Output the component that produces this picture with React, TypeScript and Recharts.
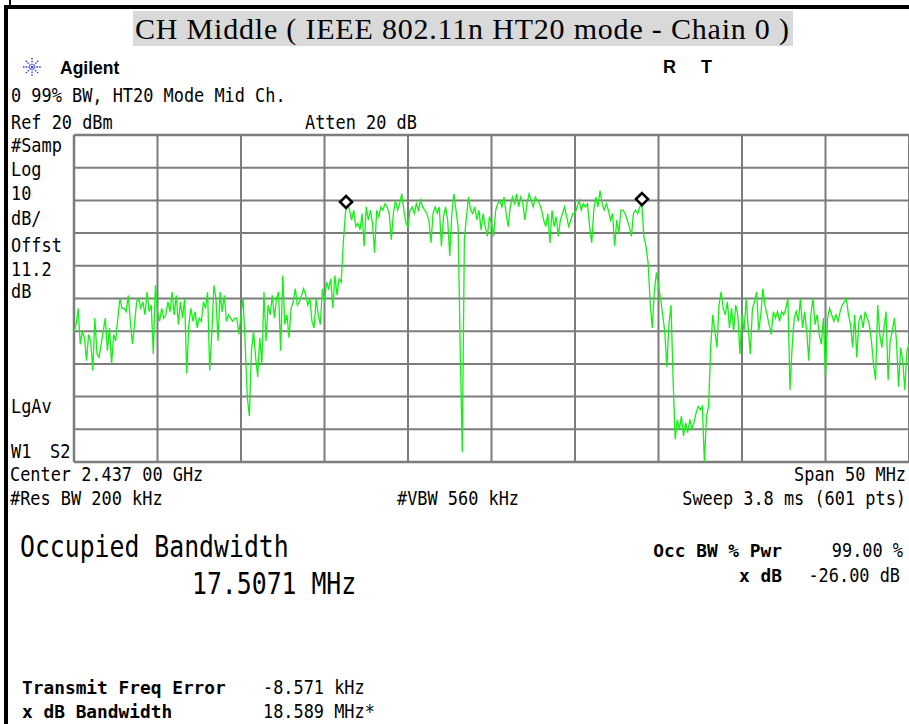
import React from 'react'
import { LineChart, Line, XAxis, YAxis, ReferenceLine, ReferenceDot } from 'recharts'

// sweep settings (center 2437 MHz, span 50 MHz)
const F_START = 2412
const F_STEP = 0.125

// trace values in dBm, one row per MHz (8 points each)
const TRACE_2412_2422 = [
  -40, -38, -33, -44, -40, -42, -49, -41,
  -43, -52, -36, -47, -48, -44, -40, -36,
  -46, -39, -50, -41, -43, -36, -30, -33,
  -33, -34, -29, -37, -44, -38, -31, -30,
  -33, -31, -35, -28, -34, -32, -47, -26,
  -34, -37, -33, -36, -35, -31, -34, -28,
  -35, -29, -38, -31, -36, -30, -53, -38,
  -33, -37, -34, -39, -36, -37, -31, -33,
  -28, -52, -41, -26, -30, -43, -28, -34,
  -29, -37, -35, -36, -37, -36, -36, -41,
]
const TRACE_2422_2432 = [
  -35, -30, -44, -60, -66, -46, -40, -48,
  -54, -42, -50, -28, -43, -32, -35, -29,
  -36, -30, -28, -46, -23, -38, -35, -42,
  -33, -31, -27, -32, -31, -29, -27, -29,
  -32, -30, -37, -39, -30, -35, -38, -27,
  -31, -25, -27, -24, -33, -23, -29, -24,
  -25, -13, -4, -1, -3, -6, -3, -8,
  -7, -9, -4, -14, -2, -6, -3, -7,
  -16, -3, -5, -2, -3, -1, -2, -4,
  -12, -4, 0, -3, -1, 2, -3, -7,
]
const TRACE_2432_2442 = [
  -8, -3, -2, -4, -1, -3, 0, -2,
  -3, -4, -6, -13, -4, -2, -4, -2,
  -14, -5, -2, -6, -17, -4, 2, -3,
  -8, -45, -77, -12, -5, 1, -3, -4,
  -2, -6, -3, -9, -4, -8, -11, -5,
  -7, -11, -3, -1, 0, -2, 1, -4,
  -8, -2, 1, -1, 2, -2, 1, -1,
  -6, -1, 2, 0, -2, 1, 0, -1,
  -3, -6, -8, -4, -13, -3, -8, -5,
  -11, -6, -4, -2, -5, -8, -6, -4,
]
const TRACE_2442_2452 = [
  -4, -2, 0, -3, -1, -2, -1, -8,
  -13, -3, 1, -2, 3, -1, -3, -1,
  -3, -6, -4, -14, -6, -10, -3, -3,
  -4, -6, -8, -11, -4, -3, -4, -2,
  -1, -11, -14, -19, -31, -39, -28, -22,
  -26, -30, -35, -40, -51, -38, -32, -55,
  -73, -67, -70, -66, -72, -68, -71, -67,
  -70, -68, -65, -63, -64, -63, -80, -66,
  -63, -45, -35, -40, -45, -32, -28, -33,
  -35, -31, -39, -33, -40, -32, -35, -47,
]
const TRACE_2452_2462 = [
  -35, -40, -30, -39, -47, -33, -31, -28,
  -40, -35, -27, -32, -35, -38, -41, -34,
  -36, -34, -37, -34, -35, -33, -30, -58,
  -45, -36, -34, -37, -30, -39, -34, -40,
  -49, -35, -30, -38, -35, -41, -44, -36,
  -54, -36, -33, -35, -37, -35, -37, -34,
  -32, -31, -30, -35, -38, -45, -35, -48,
  -37, -35, -39, -34, -36, -38, -43, -50,
  -55, -32, -41, -45, -39, -34, -55, -43,
  -40, -36, -43, -57, -45, -49, -58, -46,
  -44,
]

const X_TICKS = [2412, 2417, 2422, 2427, 2432, 2437, 2442, 2447, 2452, 2457, 2462]
const Y_TICKS = [20, 10, 0, -10, -20, -30, -40, -50, -60, -70, -80]

// occupied bandwidth markers (freq MHz, dBm)
const MARKERS = [
  { freq: 2428.29, dbm: -0.5 },
  { freq: 2446.01, dbm: 0.4 },
]

const SWEEP = [
  ...TRACE_2412_2422,
  ...TRACE_2422_2432,
  ...TRACE_2432_2442,
  ...TRACE_2442_2452,
  ...TRACE_2452_2462,
]
const traceData = SWEEP.map((dbm, i) => ({ freq: F_START + i * F_STEP, dbm }))

const GRID = '#7c7c7c'
const MONO = "'DejaVu Sans Mono', monospace"

function Mono({ x, y, size = 19, sx = 0.89, bold = false, anchor = 'start', children }: any) {
  return (
    <text
      x={x / sx}
      y={y}
      transform={`scale(${sx},1)`}
      fontFamily={MONO}
      fontSize={size}
      fontWeight={bold ? 'bold' : 'normal'}
      textAnchor={anchor}
      fill="#000"
      style={{ whiteSpace: 'pre' }}
    >
      {children}
    </text>
  )
}

const Diamond = (props: any) => {
  const { cx, cy } = props
  const r = 6
  return (
    <polygon
      points={`${cx},${cy - r} ${cx + r},${cy} ${cx},${cy + r} ${cx - r},${cy}`}
      fill="#fff"
      stroke="#000"
      strokeWidth={2.6}
    />
  )
}

function AgilentStar() {
  const rays = [0, 45, 90, 135]
  return (
    <g transform="translate(32,67)">
      {rays.map((a) => (
        <line
          key={a}
          x1={-9}
          y1={0}
          x2={9}
          y2={0}
          transform={`rotate(${a})`}
          stroke="#3030f0"
          strokeWidth={1.3}
          strokeDasharray="1.5 1.2"
        />
      ))}
    </g>
  )
}

export default function App() {
  return (
    <div
      style={{
        position: 'absolute',
        left: 0,
        top: 0,
        width: 909,
        height: 724,
        background: '#fff',
        overflow: 'hidden',
      }}
    >
      {/* frame */}
      <div style={{ position: 'absolute', left: 4, top: 5, width: 905, height: 4, background: '#000' }} />
      <div style={{ position: 'absolute', left: 4, top: 5, width: 4, height: 719, background: '#000' }} />
      <div style={{ position: 'absolute', left: 9, top: 0, width: 2, height: 5, background: '#000' }} />

      {/* title */}
      <div
        style={{
          position: 'absolute',
          left: 133,
          top: 11,
          width: 660,
          height: 35,
          background: '#d9d9d9',
          fontFamily: "'Liberation Serif', 'Times New Roman', serif",
          fontSize: 30,
          lineHeight: '35px',
          letterSpacing: 0.8,
          whiteSpace: 'nowrap',
          paddingLeft: 2,
          boxSizing: 'border-box',
          color: '#000',
        }}
      >
        CH Middle ( IEEE 802.11n HT20 mode - Chain 0 )
      </div>

      <div style={{ position: 'absolute', left: 0, top: 0 }}>
        <LineChart width={909} height={470} data={traceData} margin={{ top: 135, right: 0, bottom: 8, left: 74 }}>
          <XAxis dataKey="freq" type="number" domain={[2412, 2462]} ticks={X_TICKS} hide />
          <YAxis type="number" domain={[-80, 20]} ticks={Y_TICKS} hide />
          {X_TICKS.map((t, i) => (
            <ReferenceLine
              key={`x${t}`}
              x={t}
              stroke={GRID}
              strokeWidth={i === 0 ? 2.5 : 2}
            />
          ))}
          {Y_TICKS.map((t, i) => (
            <ReferenceLine
              key={`y${t}`}
              y={t}
              stroke={GRID}
              strokeWidth={i === 0 || i === Y_TICKS.length - 1 ? 2.5 : 2}
            />
          ))}
          <Line
            type="linear"
            dataKey="dbm"
            stroke="#14f014"
            strokeWidth={1.3}
            dot={false}
            isAnimationActive={false}
          />
          {MARKERS.map((m) => (
            <ReferenceDot key={m.freq} x={m.freq} y={m.dbm} r={6} shape={<Diamond />} />
          ))}
        </LineChart>
      </div>

      <svg
        width={909}
        height={724}
        style={{ position: 'absolute', left: 0, top: 0, pointerEvents: 'none' }}
      >
        <AgilentStar />
        <text x={60} y={74} fontFamily="'Liberation Sans', Arial, sans-serif" fontWeight="bold" fontSize={17.5}>
          Agilent
        </text>
        <text x={663} y={73} fontFamily="'Liberation Sans', Arial, sans-serif" fontWeight="bold" fontSize={18}>
          R
        </text>
        <text x={701} y={73} fontFamily="'Liberation Sans', Arial, sans-serif" fontWeight="bold" fontSize={18}>
          T
        </text>

        <Mono x={11} y={102}>0 99% BW, HT20 Mode Mid Ch.</Mono>
        <Mono x={11} y={129}>Ref 20 dBm</Mono>
        <Mono x={305} y={129}>Atten 20 dB</Mono>

        <Mono x={11} y={152}>#Samp</Mono>
        <Mono x={11} y={176}>Log</Mono>
        <Mono x={11} y={200}>10</Mono>
        <Mono x={11} y={225}>dB/</Mono>
        <Mono x={11} y={252}>Offst</Mono>
        <Mono x={11} y={276}>11.2</Mono>
        <Mono x={11} y={298}>dB</Mono>
        <Mono x={11} y={413}>LgAv</Mono>
        <Mono x={11} y={458}>W1</Mono>
        <Mono x={50} y={458}>S2</Mono>

        <Mono x={10} y={481}>Center 2.437 00 GHz</Mono>
        <Mono x={906} y={481} anchor="end">Span 50 MHz</Mono>
        <Mono x={10} y={505}>#Res BW 200 kHz</Mono>
        <Mono x={397} y={505}>#VBW 560 kHz</Mono>
        <Mono x={906} y={505} anchor="end">Sweep 3.8 ms (601 pts)</Mono>

        <Mono x={20} y={557} size={31} sx={0.8}>Occupied Bandwidth</Mono>
        <Mono x={192} y={594} size={31} sx={0.8}>17.5071 MHz</Mono>

        <Mono x={782} y={557} size={18} sx={0.99} bold anchor="end">Occ BW % Pwr</Mono>
        <Mono x={903} y={557} anchor="end">99.00 %</Mono>
        <Mono x={782} y={582} size={18} sx={0.99} bold anchor="end">x dB</Mono>
        <Mono x={900} y={582} anchor="end">-26.00 dB</Mono>

        <Mono x={22} y={694} size={18} sx={0.99} bold>Transmit Freq Error</Mono>
        <Mono x={263} y={694}>-8.571 kHz</Mono>
        <Mono x={22} y={718} size={18} sx={0.99} bold>x dB Bandwidth</Mono>
        <Mono x={263} y={718}>18.589 MHz*</Mono>
      </svg>
    </div>
  )
}
